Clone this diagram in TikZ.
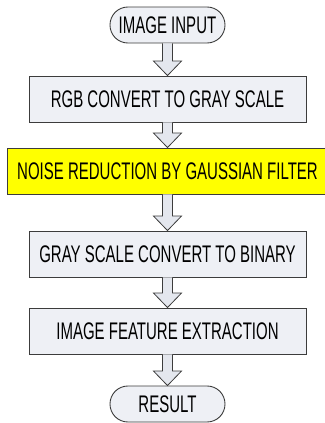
\documentclass[tikz,border=0pt]{standalone}
\usepackage{fontspec}
\setmainfont{Liberation Sans}[FakeStretch=0.625]
\usetikzlibrary{calc}

\definecolor{boxfill}{HTML}{EEF0F5}
\definecolor{arrowfill}{HTML}{E4E7EE}
\definecolor{edgegray}{HTML}{3C3C3C}
\definecolor{hilite}{HTML}{FFFF00}

\tikzset{
  stagebox/.style={draw=edgegray, fill=boxfill, line width=0.9pt, minimum width=277pt,
    minimum height=46pt, inner sep=0pt, font=\fontsize{24}{26}\selectfont},
  endbox/.style={stagebox, rounded corners=17.9pt, minimum width=115pt, minimum height=36pt},
  flowarrow/.style={draw=edgegray, fill=arrowfill, line width=0.8pt, line join=miter},
}

% block arrow from the bottom of one node to the top of the next
\newcommand{\flowstep}[2]{%
  \draw[flowarrow] let \p1=(#1.south), \p2=(#2.north) in
    (\x1-5pt,\y1) -- (\x1-5pt,\y2+14.5pt) -- (\x1-14pt,\y2+14.5pt) -- (\x1,\y2)
    -- (\x1+14pt,\y2+14.5pt) -- (\x1+5pt,\y2+14.5pt) -- (\x1+5pt,\y1);
}

\begin{document}
\begin{tikzpicture}
\useasboundingbox (0,0) rectangle (324pt,-423pt);

\node[endbox] (input) at (167.5pt,-25pt) {IMAGE INPUT};
\node[stagebox] (rgb) at (167.5pt,-99pt) {RGB CONVERT TO GRAY SCALE};
\node[stagebox, fill=hilite, minimum width=321pt] (noise) at (167.5pt,-171pt) {NOISE REDUCTION BY GAUSSIAN FILTER};
\node[stagebox] (binary) at (167.5pt,-254pt) {GRAY SCALE CONVERT TO BINARY};
\node[stagebox] (feature) at (167.5pt,-331pt) {IMAGE FEATURE EXTRACTION};
\node[endbox] (result) at (167.5pt,-404pt) {RESULT};

\flowstep{input}{rgb}
\flowstep{rgb}{noise}
\flowstep{noise}{binary}
\flowstep{binary}{feature}
\flowstep{feature}{result}

\end{tikzpicture}
\end{document}
